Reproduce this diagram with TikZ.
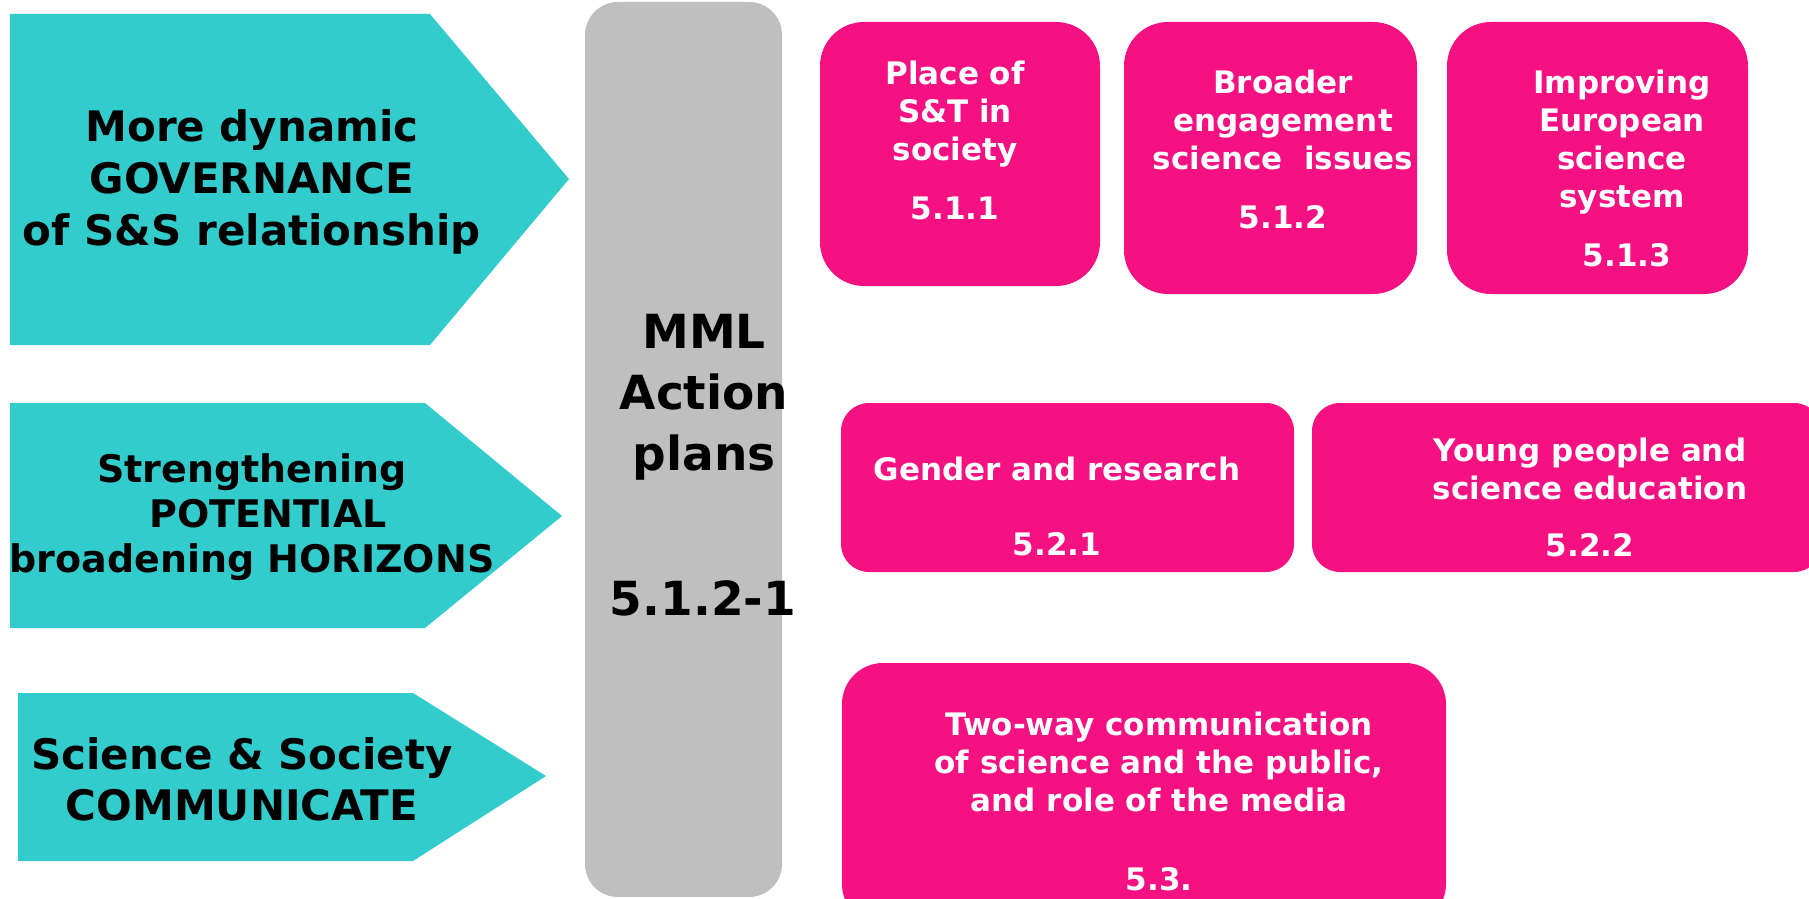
\documentclass[tikz,border=0pt]{standalone}
\usepackage{fontspec}
\setmainfont{DejaVu Sans}
\definecolor{tealA}{RGB}{51,204,204}
\definecolor{pinkA}{RGB}{245,17,130}
\definecolor{grayA}{RGB}{191,191,191}
\begin{document}
\begin{tikzpicture}[x=0.5pt,y=-0.5pt,
  darktext/.style={text=black, align=center, inner sep=0pt},
  boxtext/.style={text=white, align=center, inner sep=0pt,
    font=\bfseries\fontsize{15.5pt}{19pt}\selectfont}]
\clip (0,0) rectangle (1809,899);
\fill[white] (0,0) rectangle (1809,899);
% arrows
\fill[tealA] (10,14) -- (430,14) -- (569,179) -- (430,345) -- (10,345) -- cycle;
\fill[tealA] (10,403) -- (425,403) -- (562,516) -- (425,628) -- (10,628) -- cycle;
\fill[tealA] (18,693) -- (413,693) -- (546,776) -- (413,861) -- (18,861) -- cycle;
\node[darktext, font=\bfseries\fontsize{21pt}{26pt}\selectfont] (ta1) at (252,182)
  {More dynamic\\GOVERNANCE\\of S\&S relationship};
\node[darktext, font=\bfseries\fontsize{19pt}{22.5pt}\selectfont] (ta2) at (252,517)
  {Strengthening\\\hspace*{16pt}POTENTIAL\\broadening HORIZONS};
\node[darktext, font=\bfseries\fontsize{21pt}{25.5pt}\selectfont] (ta3) at (242,779)
  {Science \& Society\\COMMUNICATE};
% gray bar
\fill[grayA, rounded corners=16.5pt] (585,2) rectangle (782,897);
\node[darktext, font=\bfseries\fontsize{23.5pt}{30.5pt}\selectfont] (mml) at (704,397)
  {MML\\Action\\plans};
\node[darktext, font=\bfseries\fontsize{23.5pt}{30.5pt}\selectfont, anchor=base] (mmlnum) at (703,615)
  {5.1.2-1};
% pink boxes
\fill[pinkA, rounded corners=22pt] (820,22) rectangle (1100,286);
\fill[pinkA, rounded corners=22pt] (1124,22) rectangle (1417,294);
\fill[pinkA, rounded corners=22pt] (1447,22) rectangle (1748,294);
\fill[pinkA, rounded corners=14pt] (841,403) rectangle (1294,572);
\fill[pinkA, rounded corners=14pt] (1312,403) rectangle (1822,572);
\fill[pinkA, rounded corners=20.5pt] (842,663) rectangle (1446,925);
\node[boxtext] (t1) at (955,140) {Place of\\S\&T in\\society\\[10.5pt]5.1.1};
\node[boxtext] (t2) at (1283,149) {Broader\\engagement\\science\ \ issues\\[10.5pt]5.1.2};
\node[boxtext] (t3) at (1622,168) {Improving\\European\\science\\system\\[10.5pt]\hspace*{5pt}5.1.3};
\node[boxtext] (t4) at (1057,506) {Gender and research\\[18.5pt]5.2.1};
\node[boxtext] (t5) at (1590,497) {Young people and\\science education\\[9.5pt]5.2.2};
\node[boxtext] (t6) at (1159,801) {Two-way communication\\of science and the public,\\and role of the media\\[20.5pt]5.3.};
\end{tikzpicture}
\end{document}
